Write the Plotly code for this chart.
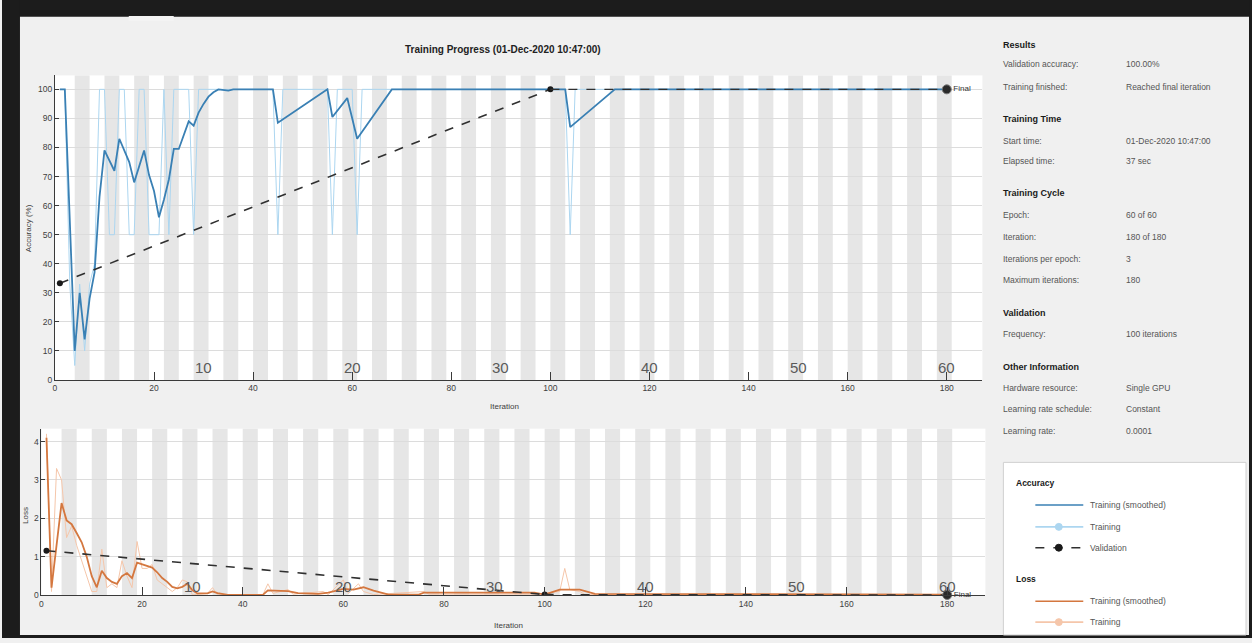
import plotly.graph_objects as go

W, H = 1252, 643
FONT = "Liberation Sans, Arial, sans-serif"

# ---------------- data ----------------
acc_smooth_iter = [1, 2, 4, 5, 6, 7, 8, 9, 10, 11, 12, 13, 14, 15, 16, 17, 18, 19, 20, 21, 22, 23, 24, 25,
                   26, 27, 28, 29, 30, 31, 32, 33, 35, 36, 44, 45, 55, 56, 59, 61, 68, 103, 104, 113, 180]
acc_smooth_val = [100, 100, 10, 30, 14, 28, 37, 63, 79, 75.5, 72, 83, 79, 75, 68, 73.5, 79, 70.5, 65, 56, 62, 69,
                  79.5, 79.5, 84.5, 89, 87.5, 92, 95, 97.5, 99, 100, 99.6, 100, 100, 88.5, 100, 90.5, 97, 83, 100,
                  100, 87, 100, 100]

acc_raw_iter = [1, 2, 3, 4, 5, 6, 7, 8, 9, 10, 11, 12, 13, 14, 15, 16, 17, 18, 19, 20, 21, 22, 23, 24, 27, 28, 29,
                44, 45, 46, 55, 56, 57, 60, 61, 62, 103, 104, 105, 180]
acc_raw_val = [100, 100, 33, 5, 33, 10, 33, 40, 100, 100, 50, 50, 100, 100, 50, 50, 100, 100, 50, 50, 50, 100, 50,
               100, 100, 50, 100, 100, 50, 100, 100, 50, 100, 100, 50, 100, 100, 50, 100, 100]

acc_val_iter = [1, 100, 180]
acc_val_val = [33.3, 100, 100]

loss_smooth_iter = list(range(1, 32)) + [33, 34, 35, 37, 44, 45, 49, 51, 55, 57, 60, 62, 64, 66, 69, 75, 76, 98,
                                         100, 103, 107, 110, 180]
loss_smooth_val = [4.1, 0.2, 1.3, 2.4, 1.95, 1.85, 1.62, 1.38, 1.0, 0.5, 0.21, 0.64, 0.45, 0.35, 0.3, 0.5, 0.58,
                   0.45, 0.85, 0.8, 0.75, 0.72, 0.6, 0.45, 0.35, 0.22, 0.18, 0.22, 0.3, 0.13, 0.05,
                   0.05, 0.1, 0.06, 0.01, 0.01, 0.13, 0.11, 0.06, 0.04, 0.07, 0.17, 0.15, 0.21, 0.12, 0.02, 0.02,
                   0.07, 0.07, 0.02, 0.15, 0.15, 0.04, 0.02]

loss_raw_iter = list(range(1, 31)) + [33, 34, 35, 44, 45, 46, 49, 50, 56, 57, 60, 61, 63, 64, 66, 76, 77, 98, 103,
                                      104, 105, 107, 108, 180]
loss_raw_val = [4.2, 0.1, 3.3, 3.0, 1.5, 1.8, 1.3, 0.9, 0.5, 0.1, 0.1, 1.2, 0.2, 0.3, 0.2, 0.9, 0.5, 0.2, 1.4, 0.7,
                0.7, 0.8, 0.4, 0.3, 0.2, 0.1, 0.2, 0.4, 0.35, 0.01,
                0.05, 0.2, 0.01, 0.01, 0.3, 0.05, 0.15, 0.03, 0.1, 0.02, 0.4, 0.05, 0.3, 0.1, 0.02, 0.1, 0.03, 0.03,
                0.1, 0.7, 0.15, 0.1, 0.02, 0.01]

loss_val_iter = [1, 100, 180]
loss_val_val = [1.16, 0.02, 0.01]

iter_ticks = [0, 20, 40, 60, 80, 100, 120, 140, 160, 180]
acc_ticks = [0, 10, 20, 30, 40, 50, 60, 70, 80, 90, 100]
loss_ticks = [0, 1, 2, 3, 4]
num_epochs = 60
iters_per_epoch = 3
epoch_labels = [10, 20, 30, 40, 50, 60]

info_rows = [
    ("Results", None, True),
    ("Validation accuracy:", "100.00%", False),
    ("Training finished:", "Reached final iteration", False),
    ("Training Time", None, True),
    ("Start time:", "01-Dec-2020 10:47:00", False),
    ("Elapsed time:", "37 sec", False),
    ("Training Cycle", None, True),
    ("Epoch:", "60 of 60", False),
    ("Iteration:", "180 of 180", False),
    ("Iterations per epoch:", "3", False),
    ("Maximum iterations:", "180", False),
    ("Validation", None, True),
    ("Frequency:", "100 iterations", False),
    ("Other Information", None, True),
    ("Hardware resource:", "Single GPU", False),
    ("Learning rate schedule:", "Constant", False),
    ("Learning rate:", "0.0001", False),
]
info_y = [45, 65, 88, 120, 142, 162, 195, 217, 239, 261, 282, 315, 337, 370, 391, 412, 434]

# ---------------- styles ----------------
C_ACC_S = "#3a80b4"
C_ACC_R = "#acd6f0"
C_LOSS_S = "#d4773f"
C_LOSS_R = "#f5c6aa"
C_VAL = "#303030"
C_STRIPE = "#e6e6e6"
C_TXT = "#404040"


def px(x):
    return x / W


def py(y):
    return 1 - y / H


fig = go.Figure()

# raw lines
fig.add_trace(go.Scatter(x=acc_raw_iter, y=acc_raw_val, mode="lines", line=dict(color=C_ACC_R, width=1),
                         xaxis="x", yaxis="y", showlegend=False, hoverinfo="skip"))
fig.add_trace(go.Scatter(x=loss_raw_iter, y=loss_raw_val, mode="lines", line=dict(color=C_LOSS_R, width=1),
                         xaxis="x2", yaxis="y2", showlegend=False, hoverinfo="skip"))
# smoothed lines
fig.add_trace(go.Scatter(x=acc_smooth_iter, y=acc_smooth_val, mode="lines", line=dict(color=C_ACC_S, width=1.8),
                         xaxis="x", yaxis="y", showlegend=False))
fig.add_trace(go.Scatter(x=loss_smooth_iter, y=loss_smooth_val, mode="lines",
                         line=dict(color=C_LOSS_S, width=1.8),
                         xaxis="x2", yaxis="y2", showlegend=False))
# validation
for xs, ys, xa, ya in [(acc_val_iter, acc_val_val, "x", "y"), (loss_val_iter, loss_val_val, "x2", "y2")]:
    fig.add_trace(go.Scatter(x=xs[:-1], y=ys[:-1], mode="lines+markers",
                             line=dict(color=C_VAL, width=1.6, dash="dash"),
                             marker=dict(color="#1a1a1a", size=6), xaxis=xa, yaxis=ya, showlegend=False))
    fig.add_trace(go.Scatter(x=xs[-2:], y=ys[-2:], mode="lines",
                             line=dict(color=C_VAL, width=1.4, dash="dash"),
                             xaxis=xa, yaxis=ya, showlegend=False))
    fig.add_trace(go.Scatter(x=[xs[-1]], y=[ys[-1]], mode="markers+text", text=["Final"],
                             textposition="middle right",
                             textfont=dict(family=FONT, size=8, color="#333"),
                             marker=dict(color="#2a2a2a", size=9, line=dict(color="#777", width=1)),
                             xaxis=xa, yaxis=ya, showlegend=False, cliponaxis=False))

shapes = []
annotations = []

# epoch stripes (even epochs shaded)
for e in range(2, num_epochs + 1, 2):
    x0 = iters_per_epoch * (e - 1) + 1
    x1 = iters_per_epoch * e + 1
    for xr, yr in [("x", "y domain"), ("x2", "y2 domain")]:
        shapes.append(dict(type="rect", xref=xr, yref=yr, x0=x0, x1=x1, y0=0, y1=1,
                           fillcolor=C_STRIPE, line=dict(width=0), layer="below"))

# epoch labels
for e in epoch_labels:
    annotations.append(dict(x=e * iters_per_epoch, y=4.4, xref="x", yref="y", text=str(e), showarrow=False,
                            font=dict(family=FONT, size=15, color="#5a5a5a"), xanchor="center", yanchor="middle"))
    annotations.append(dict(x=e * iters_per_epoch, y=0.24, xref="x2", yref="y2", text=str(e), showarrow=False,
                            font=dict(family=FONT, size=15, color="#5a5a5a"), xanchor="center", yanchor="middle"))

# window frame
shapes += [
    dict(type="rect", xref="paper", yref="paper", x0=0, x1=1, y0=py(17), y1=1, fillcolor="#1c1c1c",
         line=dict(width=0), layer="above"),
    dict(type="rect", xref="paper", yref="paper", x0=0, x1=px(18), y0=0, y1=1, fillcolor="#1c1c1c",
         line=dict(width=0), layer="above"),
    dict(type="rect", xref="paper", yref="paper", x0=px(1249), x1=1, y0=0, y1=1, fillcolor="#1c1c1c",
         line=dict(width=0), layer="above"),
    dict(type="rect", xref="paper", yref="paper", x0=0, x1=1, y0=0, y1=py(640), fillcolor="#1c1c1c",
         line=dict(width=0), layer="above"),
    dict(type="rect", xref="paper", yref="paper", x0=px(127), x1=px(172), y0=py(21), y1=py(16),
         fillcolor="#f4f4f4", line=dict(width=0), layer="above"),
]

# title
annotations.append(dict(x=px(502), y=py(50), xref="paper", yref="paper", showarrow=False,
                        text="<b>Training Progress (01-Dec-2020 10:47:00)</b>",
                        font=dict(family=FONT, size=10, color="#222"), xanchor="center", yanchor="middle"))
# axis titles
annotations += [
    dict(x=px(26), y=py(230), xref="paper", yref="paper", showarrow=False, text="Accuracy (%)", textangle=-90,
         font=dict(family=FONT, size=8, color=C_TXT), xanchor="center", yanchor="middle"),
    dict(x=px(503), y=py(410), xref="paper", yref="paper", showarrow=False, text="Iteration",
         font=dict(family=FONT, size=8, color=C_TXT), xanchor="center", yanchor="middle"),
    dict(x=px(24), y=py(519), xref="paper", yref="paper", showarrow=False, text="Loss", textangle=-90,
         font=dict(family=FONT, size=8, color=C_TXT), xanchor="center", yanchor="middle"),
    dict(x=px(507), y=py(630), xref="paper", yref="paper", showarrow=False, text="Iteration",
         font=dict(family=FONT, size=8, color=C_TXT), xanchor="center", yanchor="middle"),
]

# info panel
for (lab, val, bold), yy in zip(info_rows, info_y):
    if bold:
        annotations.append(dict(x=px(1001), y=py(yy), xref="paper", yref="paper", showarrow=False,
                                text=f"<b>{lab}</b>", font=dict(family=FONT, size=9, color="#1a1a1a"),
                                xanchor="left", yanchor="middle"))
    else:
        annotations.append(dict(x=px(1001), y=py(yy), xref="paper", yref="paper", showarrow=False,
                                text=lab, font=dict(family=FONT, size=8.5, color="#555"),
                                xanchor="left", yanchor="middle"))
        annotations.append(dict(x=px(1124), y=py(yy), xref="paper", yref="paper", showarrow=False,
                                text=val, font=dict(family=FONT, size=8.5, color="#555"),
                                xanchor="left", yanchor="middle"))

# legend box (manual, MATLAB-style)
shapes.append(dict(type="rect", xref="paper", yref="paper", x0=px(1003), x1=px(1246), y0=py(640), y1=py(466),
                   fillcolor="white", line=dict(color="#d0d0d0", width=1), layer="above"))
leg_items = [
    ("head", "Accuracy", 487, None),
    ("line", "Training (smoothed)", 509, dict(color=C_ACC_S, dash="solid", marker=None)),
    ("line", "Training", 531, dict(color=C_ACC_R, dash="solid", marker=C_ACC_R)),
    ("line", "Validation", 552, dict(color=C_VAL, dash="dash", marker="#1a1a1a")),
    ("head", "Loss", 584, None),
    ("line", "Training (smoothed)", 606, dict(color=C_LOSS_S, dash="solid", marker=None)),
    ("line", "Training", 627, dict(color=C_LOSS_R, dash="solid", marker=C_LOSS_R)),
]
for kind, label, yy, st in leg_items:
    if kind == "head":
        annotations.append(dict(x=px(1014), y=py(yy), xref="paper", yref="paper", showarrow=False,
                                text=f"<b>{label}</b>", font=dict(family=FONT, size=8.5, color="#1a1a1a"),
                                xanchor="left", yanchor="middle"))
    else:
        shapes.append(dict(type="line", xref="paper", yref="paper", x0=px(1035), x1=px(1083), y0=py(yy),
                           y1=py(yy), line=dict(color=st["color"], width=1.6, dash=st["dash"]), layer="above"))
        if st["marker"]:
            shapes.append(dict(type="circle", xref="paper", yref="paper", x0=px(1055), x1=px(1062),
                               y0=py(yy + 3.5), y1=py(yy - 3.5), fillcolor=st["marker"],
                               line=dict(color=st["marker"], width=1), layer="above"))
        annotations.append(dict(x=px(1088), y=py(yy), xref="paper", yref="paper", showarrow=False,
                                text=label, font=dict(family=FONT, size=8.5, color="#555"),
                                xanchor="left", yanchor="middle"))

axis_common = dict(showline=True, linecolor="#3a3a3a", linewidth=1, ticks="inside", tickcolor="#3a3a3a",
                   tickfont=dict(family=FONT, size=8.5, color=C_TXT), zeroline=False)

fig.update_layout(
    width=W, height=H, margin=dict(l=0, r=0, t=0, b=0),
    paper_bgcolor="#f0f0f0", plot_bgcolor="white", showlegend=False,
    xaxis=dict(domain=[px(53), px(982)], range=[0, 187.2], anchor="y", tickvals=iter_ticks, ticklen=8,
               showgrid=False, **axis_common),
    yaxis=dict(domain=[py(383), py(76)], range=[0, 104.8], anchor="x", tickvals=acc_ticks, ticklen=4,
               showgrid=True, gridcolor="#dcdcdc", gridwidth=1, **axis_common),
    xaxis2=dict(domain=[px(39.5), px(985)], range=[0, 187.6], anchor="y2", tickvals=iter_ticks, ticklen=8,
                showgrid=False, **axis_common),
    yaxis2=dict(domain=[py(600), py(432)], range=[0, 4.335], anchor="x2", tickvals=loss_ticks, ticklen=4,
                showgrid=True, gridcolor="#dcdcdc", gridwidth=1, **axis_common),
    shapes=shapes, annotations=annotations,
)

fig.write_html("out.html", config={"displayModeBar": False},
               post_script="document.body.style.margin='0';document.body.style.padding='0';"
                           "document.body.style.overflow='hidden';")
